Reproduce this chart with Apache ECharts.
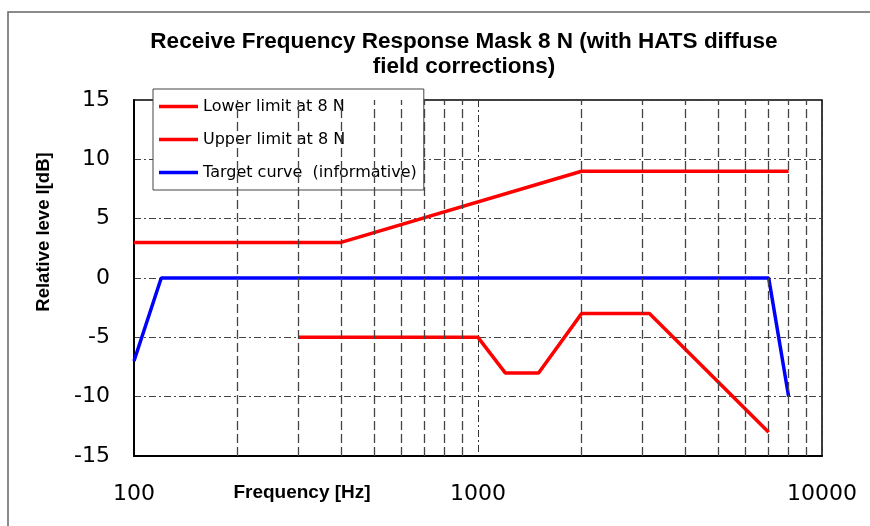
<!DOCTYPE html>
<html>
<head>
<meta charset="utf-8">
<script src="https://cdn.jsdelivr.net/npm/echarts@6/dist/echarts.min.js"></script>
<style>
  html, body { margin: 0; padding: 0; background: #fff; }
  #chart { width: 870px; height: 526px; }
</style>
</head>
<body>
<div id="chart"></div>
<script>
// 頻率與位準資料
const lowerFreq = [300, 1000, 1200, 1500, 2000, 3150, 7000];
const lowerLevel = [-5, -5, -8, -8, -3, -3, -13];
const upperFreq = [100, 400, 2000, 8000];
const upperLevel = [3, 3, 9, 9];
const targetFreq = [100, 120, 7000, 8000];
const targetLevel = [-7, 0, 0, -10];
const minorGridFreq = [200, 300, 400, 500, 600, 700, 800, 900,
    2000, 3000, 4000, 5000, 6000, 7000, 8000, 9000];
const seriesNames = ['Lower limit at 8 N', 'Upper limit at 8 N', 'Target curve  (informative)'];

function pairs(xs, ys) {
    return xs.map((x, i) => [x, ys[i]]);
}

document.addEventListener('DOMContentLoaded', function () {
    initChart();
});

function initChart() {
    const chart = echarts.init(document.getElementById('chart'));
    const labelFont = 'DejaVu Sans';
    const boldFont = 'Liberation Sans';

    const option = {
        animation: false,
        title: {
            text: 'Receive Frequency Response Mask 8 N (with HATS diffuse\nfield corrections)',
            left: 459,
            top: 24,
            textAlign: 'center',
            textStyle: {
                fontFamily: boldFont,
                fontWeight: 'bold',
                fontSize: 22.5,
                lineHeight: 25,
                color: '#000'
            }
        },
        legend: {
            data: seriesNames,
            orient: 'vertical',
            left: 153,
            top: 89,
            padding: [8, 7, 8, 6],
            icon: 'rect',
            itemWidth: 39,
            itemHeight: 3.5,
            itemGap: 14,
            backgroundColor: '#fff',
            borderColor: '#444',
            borderWidth: 1,
            textStyle: {
                fontFamily: labelFont,
                fontSize: 16,
                lineHeight: 19,
                color: '#000'
            }
        },
        graphic: [
            {
                type: 'rect',
                shape: { x: 8, y: 12, width: 900, height: 600 },
                style: { fill: 'none', stroke: '#666', lineWidth: 1.5 },
                silent: true
            },
            {
                type: 'text',
                x: 44,
                y: 232,
                rotation: Math.PI / 2,
                style: {
                    text: 'Relative leve l[dB]',
                    fontFamily: boldFont,
                    fontWeight: 'bold',
                    fontSize: 18.5,
                    fill: '#000',
                    textAlign: 'center',
                    textVerticalAlign: 'middle'
                }
            },
            {
                type: 'text',
                x: 302,
                y: 493,
                style: {
                    text: 'Frequency [Hz]',
                    fontFamily: boldFont,
                    fontWeight: 'bold',
                    fontSize: 19,
                    fill: '#000',
                    textAlign: 'center',
                    textVerticalAlign: 'middle'
                }
            }
        ],
        grid: {
            left: 134,
            right: 48,
            top: 100,
            bottom: 70,
            show: true,
            borderColor: '#000',
            borderWidth: 1.5,
            backgroundColor: 'transparent'
        },
        xAxis: {
            type: 'log',
            logBase: 10,
            min: 100,
            max: 10000,
            axisLine: { show: true, onZero: false, lineStyle: { color: '#000', width: 2 } },
            axisTick: { show: false },
            axisLabel: {
                margin: 27,
                fontFamily: labelFont,
                fontSize: 22,
                color: '#000',
                showMinLabel: true,
                showMaxLabel: true,
                formatter: v => String(Math.round(v))
            },
            splitLine: {
                show: true,
                lineStyle: { color: '#333', width: 1, type: [7, 3, 2, 3] }
            }
        },
        yAxis: {
            type: 'value',
            min: -15,
            max: 15,
            interval: 5,
            axisLine: { show: true, lineStyle: { color: '#000', width: 2 } },
            axisTick: { show: false },
            axisLabel: {
                margin: 24,
                fontFamily: labelFont,
                fontSize: 22,
                color: '#000'
            },
            splitLine: {
                show: true,
                lineStyle: { color: '#444', width: 1, type: [7, 3, 2, 3] }
            }
        },
        series: [
            {
                name: 'minor grid',
                type: 'line',
                data: [],
                z: 1,
                silent: true,
                markLine: {
                    silent: true,
                    symbol: 'none',
                    label: { show: false },
                    lineStyle: { color: '#444', width: 1.3, type: [9, 4] },
                    data: minorGridFreq.map(f => ({ xAxis: f }))
                }
            },
            {
                name: seriesNames[0],
                type: 'line',
                data: pairs(lowerFreq, lowerLevel),
                symbol: 'none',
                z: 3,
                color: '#ff0000',
                lineStyle: { color: '#ff0000', width: 3.5 }
            },
            {
                name: seriesNames[1],
                type: 'line',
                data: pairs(upperFreq, upperLevel),
                symbol: 'none',
                z: 3,
                color: '#ff0000',
                lineStyle: { color: '#ff0000', width: 3.5 }
            },
            {
                name: seriesNames[2],
                type: 'line',
                data: pairs(targetFreq, targetLevel),
                symbol: 'none',
                z: 3,
                color: '#0000ff',
                lineStyle: { color: '#0000ff', width: 3.5 }
            }
        ]
    };

    chart.setOption(option);
}
</script>
</body>
</html>
